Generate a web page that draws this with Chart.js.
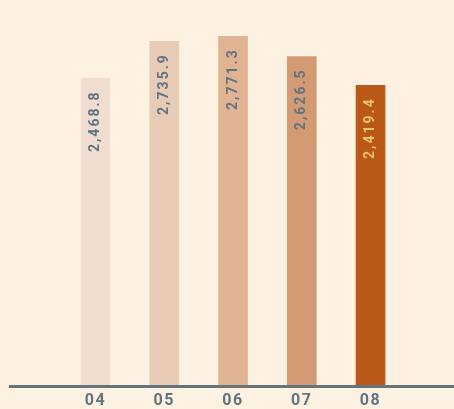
<!DOCTYPE html>
<html>
<head>
<meta charset="utf-8">
<script src="https://cdn.jsdelivr.net/npm/chart.js@4/dist/chart.umd.min.js"></script>
<style>
  html, body { margin: 0; padding: 0; background: #fdf1e1; }
  #wrap { width: 454px; height: 409px; }
</style>
</head>
<body>
<div id="wrap"><canvas id="barChart"></canvas></div>
<script>
const months = ["04", "05", "06", "07", "08"];
const totals = [2468.8, 2735.9, 2771.3, 2626.5, 2419.4];
const barColors = ["#f0ddd0", "#e8cbb5", "#e0b393", "#d49a73", "#b95817"];
const labelColors = ["#5f7480", "#5f7480", "#5f7480", "#5f7480", "#e8c36a"];

// spacing for the canvas text (tick labels)
const spacing = {
    id: "spacing",
    beforeDraw(chart) { chart.ctx.letterSpacing = "1.5px"; },
    afterDraw(chart) { chart.ctx.letterSpacing = "0px"; }
};

// value written up the inside of each bar, near its top
const valueLabels = {
    id: "valueLabels",
    afterDatasetsDraw(chart) {
        const ctx = chart.ctx;
        const meta = chart.getDatasetMeta(0);
        meta.data.forEach((bar, i) => {
            const text = totals[i].toLocaleString("en-US", { minimumFractionDigits: 1 });
            ctx.save();
            ctx.letterSpacing = "2px";
            ctx.translate(bar.x, bar.y + 12);
            ctx.rotate(-Math.PI / 2);
            ctx.font = "bold 14px Roboto";
            ctx.fillStyle = labelColors[i];
            ctx.textAlign = "right";
            ctx.textBaseline = "middle";
            ctx.fillText(text, 0, 0);
            ctx.restore();
        });
    }
};

const ctx = document.getElementById("barChart").getContext("2d");

new Chart(ctx, {
    type: "bar",
    data: {
        datasets: [{
            data: totals.map((v, i) => ({ x: i, y: v })),
            backgroundColor: barColors,
            barThickness: 29
        }]
    },
    options: {
        responsive: true,
        maintainAspectRatio: false,
        animation: false,
        layout: { padding: { left: 10, right: 0, top: 0, bottom: -7 } },
        plugins: { legend: { display: false }, tooltip: { enabled: false } },
        scales: {
            x: {
                type: "linear",
                offset: false,
                min: -1.244,
                max: 5.214,
                grid: { display: false, drawTicks: false, offset: false },
                border: { display: true, color: "#65757d", width: 3, z: 1 },
                ticks: {
                    stepSize: 1,
                    includeBounds: false,
                    autoSkip: false,
                    maxRotation: 0,
                    padding: 5,
                    color: "#617380",
                    font: { family: "Roboto", size: 16, weight: "bold" },
                    callback: v => months[v]
                }
            },
            y: {
                display: false,
                min: 255,
                max: 3032
            }
        }
    },
    plugins: [spacing, valueLabels]
});
</script>
</body>
</html>
